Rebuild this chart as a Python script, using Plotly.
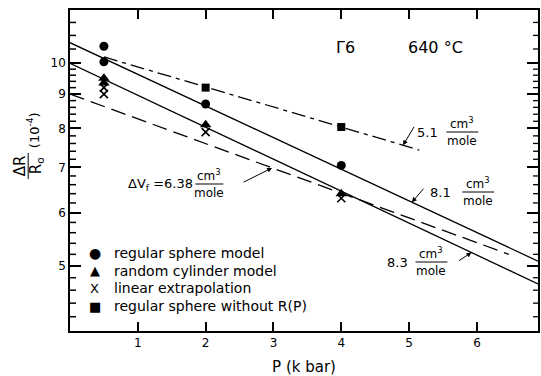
import math
import plotly.graph_objects as go

# ---------------- data ----------------
# measured points (P in kbar, dR/R0 in 1e-4)
sphere_P = [0.5, 0.5, 2, 4]
sphere_R = [10.6, 10.05, 8.7, 7.05]
cyl_P = [0.5, 0.5, 2, 4]
cyl_R = [9.5, 9.35, 8.1, 6.4]
lin_P = [0.5, 0.5, 2, 4]
lin_R = [9.2, 9.0, 7.9, 6.3]
nos_P = [2, 4]
nos_R = [9.2, 8.04]

# fitted lines (end points)
fit51_P = [0.5, 5.15]
fit51_R = [10.22, 7.43]
fit81_P = [0, 6.9]
fit81_R = [10.73, 5.08]
fit83_P = [0, 6.9]
fit83_R = [10.0, 4.70]
fit638_P = [0, 6.47]
fit638_R = [9.0, 5.2]

legend_names = ["regular sphere model", "random cylinder model",
                "linear extrapolation", "regular sphere without R(P)"]
legend_glyphs = ["●", "▲", "X", "■"]

x_ticks = [1, 2, 3, 4, 5, 6]
y_ticks = [5, 6, 7, 8, 9, 10]
y_minor = [round(4 + 0.2 * i, 1) for i in range(1, 31)] + [10.5, 11, 11.5]
y_minor = [v for v in y_minor if v not in y_ticks]
Y_MIN, Y_MAX = 4, 12

FONT = "DejaVu Sans"

def on_line(xs, ys, x):
    t = (x - xs[0]) / (xs[1] - xs[0])
    return 10 ** (math.log10(ys[0]) + t * (math.log10(ys[1]) - math.log10(ys[0])))

fig = go.Figure()
black = "black"
for xs, ys, dash in [(fit51_P, fit51_R, "14px,5px,4px,5px"),
                     (fit81_P, fit81_R, "solid"),
                     (fit83_P, fit83_R, "solid"),
                     (fit638_P, fit638_R, "15px,7px")]:
    fig.add_trace(go.Scatter(x=xs, y=ys, mode="lines", showlegend=False,
                             line=dict(color=black, width=1.3, dash=dash)))

fig.add_trace(go.Scatter(x=sphere_P, y=sphere_R, mode="markers", name=legend_names[0],
                         showlegend=False, marker=dict(symbol="circle", size=9, color=black)))
fig.add_trace(go.Scatter(x=cyl_P, y=cyl_R, mode="markers", name=legend_names[1],
                         showlegend=False, marker=dict(symbol="triangle-up", size=10, color=black)))
fig.add_trace(go.Scatter(x=lin_P, y=lin_R, mode="markers", name=legend_names[2],
                         showlegend=False,
                         marker=dict(symbol="x-thin", size=8, color=black,
                                     line=dict(width=1.6, color=black))))
fig.add_trace(go.Scatter(x=nos_P, y=nos_R, mode="markers", name=legend_names[3],
                         showlegend=False, marker=dict(symbol="square", size=8, color=black)))

# pixel -> paper helpers
L, R, T, B = 70, 540, 10, 331
def px(x):
    return (x - L) / (R - L)
def py(y):
    return (B - y) / (B - T)

ann = []
shapes = []
def text(x, y, s, size=13, angle=0, anchor="center"):
    ann.append(dict(x=px(x), y=py(y), xref="paper", yref="paper", text=s, showarrow=False,
                    font=dict(family=FONT, size=size, color=black), textangle=angle,
                    xanchor=anchor, yanchor="middle"))

def frac(xc, ybar, half):
    text(xc, ybar - 9, "cm<sup>3</sup>", 12)
    text(xc, ybar + 9, "mole", 12)
    shapes.append(dict(type="line", xref="paper", yref="paper",
                       x0=px(xc - half), x1=px(xc + half), y0=py(ybar), y1=py(ybar),
                       line=dict(color=black, width=1)))

def arrow(xs, ys, x, ax, ay):
    ann.append(dict(x=x, y=math.log10(on_line(xs, ys, x)), xref="x", yref="y", text="",
                    showarrow=True, ax=ax, ay=ay, arrowhead=2, arrowsize=1, arrowwidth=1,
                    arrowcolor=black))

text(347, 47, "Γ6", 16)
text(437, 47, "640 °C", 16)

text(429, 132, "5.1", 13)
frac(464, 132, 16)
arrow(fit51_P, fit51_R, 4.91, 12, -20)

text(442, 192, "8.1", 13)
frac(480, 192, 16)
arrow(fit81_P, fit81_R, 5.04, 13, -15)

text(399, 262, "8.3", 13)
frac(433, 262, 16)
arrow(fit83_P, fit83_R, 5.92, -14, 9)

text(161, 184, "ΔV<sub>f</sub> =6.38", 13)
frac(210, 184, 14)
arrow(fit638_P, fit638_R, 2.98, -30, 15)

# y-axis title as a fraction
text(20, 166, "ΔR", 15, -90)
text(36, 166, "R<sub>o</sub>", 15, -90)
shapes.append(dict(type="line", xref="paper", yref="paper", x0=px(28), x1=px(28),
                   y0=py(153), y1=py(179), line=dict(color=black, width=1)))
text(33, 130, "(10<sup>-4</sup>)", 13, -90)

# legend drawn as text
glyph_sizes = [14, 13, 13, 13]
for i, (g, name) in enumerate(zip(legend_glyphs, legend_names)):
    yrow = 253 + i * 17.7
    text(95, yrow, g, glyph_sizes[i])
    text(112, yrow, name, 14, anchor="left")

# minor ticks on the log axis (left and right frame), placed in axis-domain units
lo, hi = math.log10(Y_MIN), math.log10(Y_MAX)
for v in y_minor:
    f = (math.log10(v) - lo) / (hi - lo)
    shapes.append(dict(type="line", xref="paper", yref="paper", x0=0, x1=6 / (R - L),
                       y0=f, y1=f, layer="above", line=dict(color=black, width=1.5)))
    shapes.append(dict(type="line", xref="paper", yref="paper", x0=1 - 5 / (R - L), x1=1,
                       y0=f, y1=f, layer="above", line=dict(color=black, width=1.3)))

fig.update_layout(
    width=541, height=376,
    margin=dict(l=70, r=1, t=10, b=45),
    paper_bgcolor="white", plot_bgcolor="white",
    font=dict(family=FONT, color=black),
    annotations=ann, shapes=shapes,
    showlegend=False,
    xaxis=dict(range=[0, 6.9], tickmode="array", tickvals=x_ticks,
               ticks="inside", ticklen=9, tickwidth=1.6, tickcolor=black,
               showline=True, linecolor=black, linewidth=1.5, mirror="ticks",
               showgrid=False, zeroline=False,
               tickfont=dict(family=FONT, size=12, color=black),
               title=dict(text="P (k bar)", font=dict(family=FONT, size=15, color=black),
                          standoff=14)),
    yaxis=dict(type="log", range=[lo, hi],
               tickmode="array", tickvals=y_ticks, ticktext=[str(v) for v in y_ticks],
               ticks="inside", ticklen=11, tickwidth=1.6, tickcolor=black,
               showline=True, linecolor=black, linewidth=1.5, mirror="ticks",
               showgrid=False, zeroline=False,
               tickfont=dict(family=FONT, size=12, color=black)),
)

fig.write_html("out.html")
